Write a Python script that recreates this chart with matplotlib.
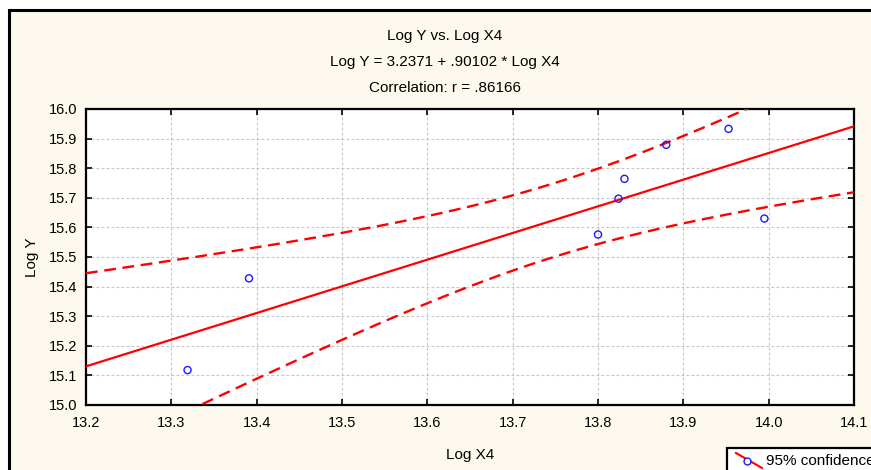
import numpy as np
import matplotlib
matplotlib.use("Agg")
import matplotlib.pyplot as plt
from matplotlib.lines import Line2D
from matplotlib.patches import Rectangle

plt.rcParams['font.family'] = ['Liberation Sans', 'DejaVu Sans']

# Observations (log scale)
log_x4 = [13.319, 13.391, 13.800, 13.824, 13.831, 13.880, 13.953, 13.995]
log_y = [15.118, 15.428, 15.576, 15.697, 15.764, 15.879, 15.933, 15.630]

# Fitted regression
intercept = 3.2371
slope = 0.90102
corr_r = 0.86166
t_crit = 2.4469  # two-sided 95%, 6 degrees of freedom

x_ticks = [13.2, 13.3, 13.4, 13.5, 13.6, 13.7, 13.8, 13.9, 14.0, 14.1]
y_ticks = [15.0, 15.1, 15.2, 15.3, 15.4, 15.5, 15.6, 15.7, 15.8, 15.9, 16.0]

W, H = 871, 470
fig = plt.figure(figsize=(W / 100, H / 100), dpi=100)
fig.patch.set_facecolor('white')

# cream panel with black frame (extends past the right/bottom edges)
panel = Rectangle((9 / W, -0.1), 1.2, 1 - 9.5 / H + 0.1, transform=fig.transFigure,
                  facecolor='#fdf9ee', edgecolor='black', linewidth=2.2, zorder=0)
fig.add_artist(panel)

ax = fig.add_axes([86 / W, 1 - 405 / H, (854 - 86) / W, (405 - 109) / H])
ax.set_facecolor('white')

xs = np.array(log_x4)
ys = np.array(log_y)
n = len(xs)
xbar = xs.mean()
sxx = ((xs - xbar) ** 2).sum()
resid = ys - (intercept + slope * xs)
s = np.sqrt((resid ** 2).sum() / (n - 2))

xg = np.linspace(13.2, 14.1, 300)
yfit = intercept + slope * xg
half = t_crit * s * np.sqrt(1 / n + (xg - xbar) ** 2 / sxx)

ax.plot(xg, yfit, color='#ff0000', linewidth=1.6, zorder=3)
ax.plot(xg, yfit + half, color='#ff0000', linewidth=1.7, dashes=(5, 2.8), zorder=3)
ax.plot(xg, yfit - half, color='#ff0000', linewidth=1.7, dashes=(5, 2.8), zorder=3)
ax.scatter(xs, ys, s=26, facecolors='none', edgecolors='#1a1aff', linewidths=1.0, zorder=4)

ax.set_xlim(13.2, 14.1)
ax.set_ylim(15.0, 16.0)
ax.set_xticks(x_ticks)
ax.set_yticks(y_ticks)
ax.set_xticklabels([f"{v:.1f}" for v in x_ticks])
ax.set_yticklabels([f"{v:.1f}" for v in y_ticks])
ax.tick_params(direction='in', length=4, width=1.2, top=True, right=True,
               labelsize=10.5, pad=6, colors='black')
ax.tick_params(axis='x', pad=8)
ax.grid(True, color='#c4c4c4', linestyle=(0, (2.5, 2)), linewidth=0.8)
ax.set_axisbelow(True)
for sp in ax.spines.values():
    sp.set_linewidth(1.6)
    sp.set_color('black')

fig.text(32 / W, 1 - 257 / H, 'Log Y', rotation=90, ha='center', va='center', fontsize=11)
fig.text(470 / W, 1 - 455 / H, 'Log X4', ha='center', va='center', fontsize=11)

titles = ['Log Y vs. Log X4',
          f'Log Y = {intercept:.4f} + {slope:.5f} * Log X4'.replace('0.', '.'),
          f'Correlation: r = {corr_r:.5f}'.replace('0.', '.')]
for t, yp in zip(titles, [36, 62, 88]):
    fig.text(445 / W, 1 - yp / H, t, ha='center', va='center', fontsize=11)

# legend box
lg = Rectangle((727 / W, -0.1), 0.5, (470 - 448) / H + 0.1, transform=fig.transFigure,
               facecolor='white', edgecolor='black', linewidth=1.6, zorder=5)
fig.add_artist(lg)
fig.add_artist(Line2D([736 / W, 762 / W], [1 - 453 / H, 1 - 468 / H], transform=fig.transFigure,
                      color='#ff0000', linewidth=1.5, zorder=6))
fig.add_artist(Line2D([747 / W], [1 - 461 / H], transform=fig.transFigure, marker='o',
                      markersize=5, markerfacecolor='white', markeredgecolor='#1a1aff',
                      markeredgewidth=1.0, zorder=7))
fig.text(766 / W, 1 - 461 / H, '95% confidence', ha='left', va='center', fontsize=11, zorder=7)

fig.savefig('out.png', dpi=100)
